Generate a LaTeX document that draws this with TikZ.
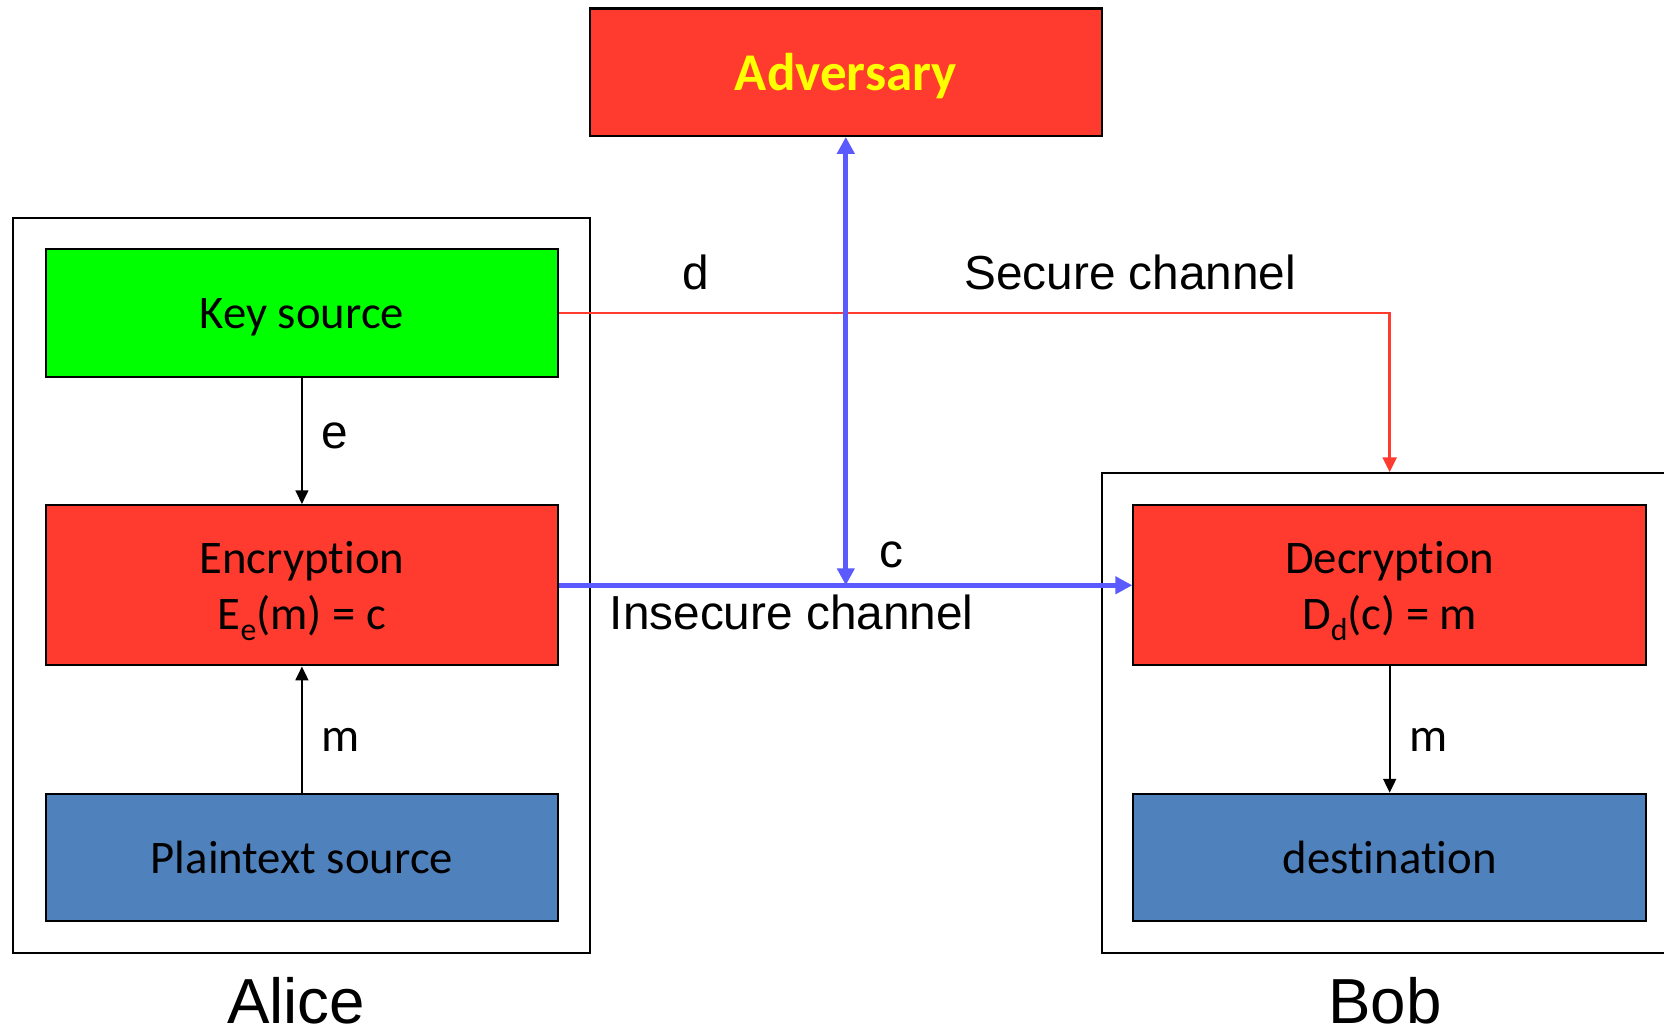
\documentclass[tikz,border=0pt]{standalone}
\usepackage{fontspec}
\setmainfont{Carlito}[Ligatures=NoCommon]
\newfontfamily\labelfont{Liberation Sans}
\usetikzlibrary{arrows.meta}

\definecolor{boxred}{RGB}{255,59,48}
\definecolor{boxgreen}{RGB}{0,255,0}
\definecolor{boxblue}{RGB}{79,129,189}
\definecolor{advyellow}{RGB}{255,255,0}
\definecolor{chanblue}{RGB}{90,90,255}
\definecolor{securered}{RGB}{255,59,48}

\tikzset{
  block/.style={draw=black, line width=1pt, minimum width=241.5pt, minimum height=60pt,
    inner sep=0pt, text depth=0pt, align=center, font=\fontsize{22}{26.5}\selectfont},
  tallblock/.style={block, minimum height=75.5pt},
  party/.style={draw=black, line width=1pt, inner sep=0pt},
  flow/.style={line width=1pt, -{Triangle[length=6.5pt,width=6pt]}},
  insecure/.style={draw=chanblue, line width=2.2pt},
  bluetip/.tip={Triangle[length=8pt,width=8pt]},
  securelink/.style={draw=securered, line width=1.3pt, -{Triangle[length=7pt,width=6.5pt]}},
  chanlabel/.style={font=\labelfont\fontsize{22.5}{27}\selectfont, inner sep=0pt},
  msglabel/.style={font=\fontsize{22.5}{27}\selectfont, inner sep=0pt},
  partylabel/.style={font=\labelfont\fontsize{30}{36}\selectfont, inner sep=0pt}
}
\newcommand{\lowsub}[1]{\raisebox{-5pt}{\fontsize{15}{15}\selectfont #1}}

\begin{document}
\begin{tikzpicture}[x=0.5pt, y=-0.5pt]
  \useasboundingbox[fill=white] (0,0) rectangle (1568,971);
  \begin{scope}
    \clip (0,0) rectangle (1568,971);

    % party frames
    \node[party, minimum width=272pt, minimum height=346.5pt] (alice) at (284,551.5) {};
    \node[party, minimum width=276pt, minimum height=226pt] (bob) at (1314,672) {};

    % adversary
    \node[block, fill=boxred, text=advyellow, minimum width=241pt,
          font=\bfseries\fontsize{25}{30}\selectfont] (adv) at (797,68) {Adversary};

    % Alice's side
    \node[block, fill=boxgreen] (key) at (284.5,295) {Key source};
    \node[tallblock, fill=boxred] (enc) at (284.5,551.5) {Encryption\\E\lowsub{e}(m) = c};
    \node[block, fill=boxblue] (plain) at (284.5,808) {Plaintext source};

    % Bob's side
    \node[tallblock, fill=boxred] (dec) at (1309.5,551.5) {Decryption\\D\lowsub{d}(c) = m};
    \node[block, fill=boxblue] (dest) at (1309.5,808) {destination};

    % local flows
    \draw[flow] (key.south) -- (enc.north);
    \draw[flow] (plain.north) -- (enc.south);
    \draw[flow] (dec.south) -- (dest.north);

    % secure channel
    \coordinate (keydrop) at (dec.north |- bob.north);
    \draw[securelink] (key.east) -| (keydrop);

    % insecure channel and adversary tap
    \coordinate (tap) at (adv.south |- enc.east);
    \draw[insecure, -bluetip] (enc.east) -- (dec.west);
    \draw[insecure, bluetip-bluetip] (adv.south) -- (tap);

    % labels
    \node[chanlabel] (dlab) at (656,257) {d};
    \node[chanlabel] (seclab) at (1065,257) {Secure channel};
    \node[chanlabel] (elab) at (315,411) {e};
    \node[chanlabel] (clab) at (840,523) {c};
    \node[chanlabel] (inslab) at (746,577) {Insecure channel};
    \node[msglabel] (mlab1) at (321,697) {m};
    \node[msglabel] (mlab2) at (1346,697) {m};
    \node[partylabel] (alicelab) at (279,943) {Alice};
    \node[partylabel] (boblab) at (1305,943) {Bob};
  \end{scope}
\end{tikzpicture}
\end{document}
